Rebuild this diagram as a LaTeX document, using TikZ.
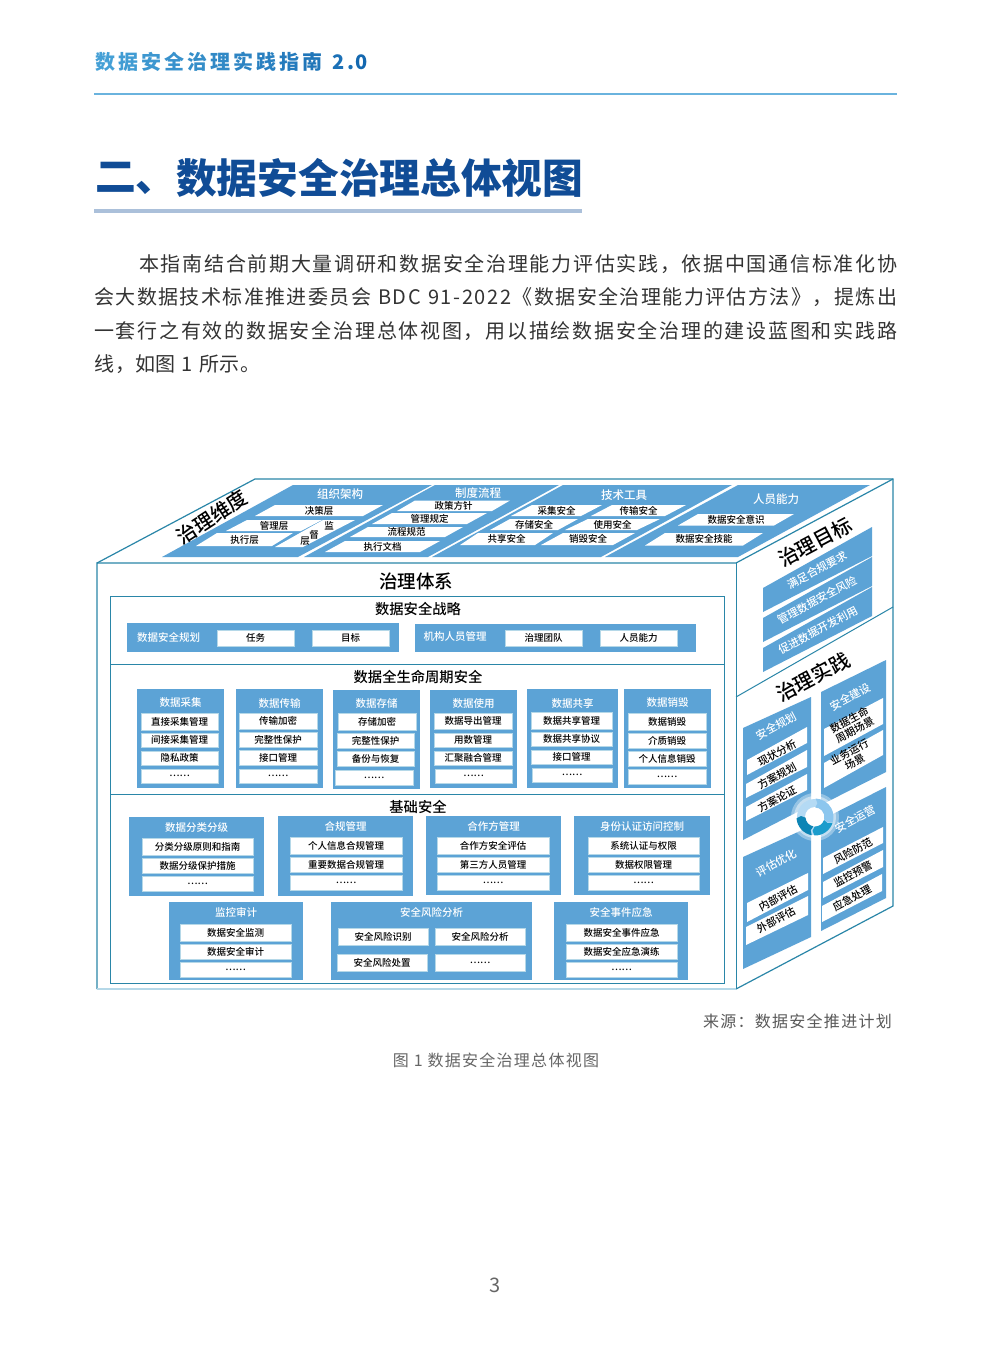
\documentclass[tikz,border=0pt]{standalone}
\usepackage{xcolor}
\usepackage{fontspec}
\setmainfont{Noto Sans CJK SC}
\newfontfamily\medfont{Noto Sans CJK SC Medium}
\newfontfamily\spreadfont[LetterSpace=8]{Noto Sans CJK SC}
\XeTeXlinebreaklocale "zh"
\XeTeXlinebreakskip=0pt plus 4pt
\definecolor{cardblue}{HTML}{5CA3D6}
\definecolor{edgeteal}{HTML}{2A86A8}
\definecolor{paleedge}{HTML}{B5D8E8}
\definecolor{navyhead}{HTML}{104C96}
\definecolor{headA}{HTML}{45A0D6}
\definecolor{headB}{HTML}{1468B0}
\definecolor{ringA}{HTML}{8CC6EE}
\definecolor{ringB}{HTML}{1B9CCC}
\definecolor{ringC}{HTML}{0D85B5}
\tikzset{
    card/.style={fill=cardblue,text=white,inner sep=0pt},
    rowcell/.style={fill=white,draw=paleedge,line width=0.4pt,text=black,inner sep=0pt,font=\medfont\fontsize{9.5}{10}\selectfont},
    cardtitle/.style={text=white,inner sep=0pt,font=\medfont\fontsize{10.5}{11}\selectfont},
    bandtitle/.style={text=white,inner sep=0pt,font=\medfont\fontsize{11.5}{12}\selectfont},
    slanttext/.style={text=black,inner sep=0pt,font=\medfont\fontsize{9.5}{10}\selectfont},
    heading/.style={text=black,inner sep=0pt,font=\medfont\fontsize{14.3}{15}\selectfont},
    facehead/.style={text=black,inner sep=0pt,rotate=28,font=\medfont\fontsize{20}{21}\selectfont},
    facetext/.style={text=black,inner sep=0pt,rotate=28,align=center,font=\medfont\fontsize{10.5}{11.5}\selectfont},
    facewhite/.style={text=white,inner sep=0pt,rotate=28,font=\medfont\fontsize{11}{12}\selectfont}
}
% box from corners, text in the middle
\newcommand{\cellat}[7]{\node[#1,minimum width={(#5-#3)*1pt},minimum height={(#6-#4)*1pt}] (#2) at ({(#3+#5)/2},{(#4+#6)/2}) {#7};}
\begin{document}
\begin{tikzpicture}[x=1pt,y=-1pt]
    \useasboundingbox (0,0) rectangle (992,1346);
    \fill[white] (0,0) rectangle (992,1346);

    % Page header
    \foreach \ch/\px [count=\i] in {数/105,据/128,安/151,全/174,治/197,理/220,实/243,践/266,指/289,南/312,2/339,./351,0/362} {
        \pgfmathtruncatemacro{\pct}{(\i-1)*100/12}
        \node[anchor=base,inner sep=0pt,text=headB!\pct!headA,font=\bfseries\fontsize{20}{21}\selectfont] (hd\i) at (\px,70) {\ch};
    }
    \draw[color=headA!80,line width=1.2pt] (94,94) -- (897,94);

    % Section title
    \node[anchor=west,inner sep=0pt,text=navyhead,font=\bfseries\fontsize{40.7}{42}\selectfont] (secnum) at (95,178) {二、};
    \node[anchor=west,inner sep=0pt,text=navyhead,font=\bfseries\fontsize{40.7}{42}\selectfont] (sectitle) at (176,178) {数据安全治理总体视图};
    \draw[color=navyhead!35,line width=3.5pt] (94,211) -- (582,211);

    % Intro paragraph
    \node[anchor=north west,inner sep=0pt,text width=803pt,align=justify,text=black!80,font=\spreadfont\fontsize{20}{33.4}\selectfont] (intro) at (94,254) {\hspace*{45pt}本指南结合前期大量调研和数据安全治理能力评估实践，依据中国通信标准化协\linebreak 会大数据技术标准推进委员会 BDC 91-2022《数据安全治理能力评估方法》，提炼出\linebreak 一套行之有效的数据安全治理总体视图，用以描绘数据安全治理的建设蓝图和实践路\linebreak 线，如图 1 所示。};

    % Cube outline
    \draw[edgeteal,line width=1.2pt] (97,563) -- (255,479) -- (893,479) -- (893,906) -- (736,989);
    \draw[edgeteal,line width=1.2pt] (97,989) -- (97,563) -- (736,563) -- (893,479);
    \draw[edgeteal,line width=1pt] (736,563) -- (736,989);
    \draw[paleedge,line width=1.6pt] (97,989) -- (736,989);
    \draw[edgeteal,line width=1pt] (736,697) -- (893,607);

    % Top face
    \node[inner sep=0pt,rotate=33,font=\medfont\fontsize{20}{21}\selectfont] (topname) at (212,517) {治理维度};
    \foreach \xa/\xb/\xc/\xd in {293/432/298/162, 435/559/428/304, 563/732/601/432, 738/870/738/605} {
        \fill[cardblue] (\xa,485) -- (\xb,485) -- (\xc,557) -- (\xd,557) -- cycle;
    }
    \foreach \nm/\px/\py/\txt in {tzz/340/494/组织架构, tzd/478/493/制度流程, tjs/624/495/技术工具, try/776/499/人员能力} {
        \node[bandtitle] (\nm) at (\px,\py) {\txt};
    }
    \foreach \nm/\xa/\xb/\ya/\yb/\dx/\txt in {
        zjc/275/383/505/516/20/决策层, zgl/247/322/520/531/21/管理层, zzx/217/293/533/546/21/执行层,
        zzc/415/510/500.5/511/18/政策方针, zgd/392/487/513/524/20/管理规定, zlc/368/463/527/537/18/流程规范, zwd/345/440/541/552/20/执行文档,
        jcj/532/602/505/516/21/采集安全, jcs/612/686/505/516/21/传输安全, jcc/510/578/519/530/20/存储安全,
        jsy/588/660/519/530/23/使用安全, jgx/478/553/533/545/18/共享安全, jxh/563/635/533/545/22/销毁安全,
        ryy/698/794/514/525.5/20/数据安全意识, rjn/665/763/533/545.5/20/数据安全技能} {
        \fill[white] (\xa,\ya) -- (\xb,\ya) -- ({\xb-\dx},\yb) -- ({\xa-\dx},\yb) -- cycle;
        \node[slanttext] (\nm) at ({(\xa+\xb-\dx)/2},{(\ya+\yb)/2}) {\txt};
    }
    \fill[white] (323,520) -- (355,520) -- (303,547) -- (275,547) -- cycle;
    \foreach \nm/\px/\py/\txt in {zjd/329/526/监, zdu/314/535/督, zce/305/541/层} {
        \node[slanttext] (\nm) at (\px,\py) {\txt};
    }

    % Front face
    \node[inner sep=0pt,font=\medfont\fontsize{18.5}{20}\selectfont] (frontname) at (416,581) {治理体系};
    \draw[edgeteal,line width=1pt] (110,596) rectangle (724,983);
    \draw[edgeteal,line width=1pt] (110,664) -- (724,664);
    \draw[edgeteal,line width=1pt] (110,794) -- (724,794);
    \foreach \nm/\py/\txt in {stratname/609/数据安全战略, lifename/677/数据全生命周期安全, basename/807/基础安全} {
        \node[heading] (\nm) at (418,\py) {\txt};
    }

    % Strategy
    \cellat{card}{plan}{127}{623}{399}{652}{}
    \cellat{card}{org}{415}{624}{696}{652}{}
    \node[cardtitle] (plantitle) at (168.5,637) {数据安全规划};
    \node[cardtitle] (orgtitle) at (455,637) {机构人员管理};
    \cellat{rowcell}{plana}{217}{630}{294}{646}{任务}
    \cellat{rowcell}{planb}{312}{630}{389}{646}{目标}
    \cellat{rowcell}{orga}{505}{630}{582}{646}{治理团队}
    \cellat{rowcell}{orgb}{600}{630}{677}{646}{人员能力}

    % Life cycle
    \foreach \nm/\xa/\ya/\xb/\yb/\txt in {
        cola/137/689/224/788/数据采集, colb/236/689/323/788/数据传输, colc/333/690/420/789/数据存储,
        cold/430/690/517/788/数据使用, cole/527/689/618/788/数据共享, colf/624/689/711/788/数据销毁} {
        \cellat{card}{\nm}{\xa}{\ya}{\xb}{\yb}{}
        \node[cardtitle] (\nm t) at ({(\xa+\xb)/2},{\ya+14}) {\txt};
    }
    \foreach \nm/\xa/\ya/\xb/\yb/\txt in {
        aa/141/713/218/730/直接采集管理, ab/141/733/218/747/间接采集管理, ac/141/751/218/765/隐私政策, ad/141/769/218/783/……,
        ba/239/713/317/729/传输加密, bb/239/732/317/747/完整性保护, bc/239/750/317/765/接口管理, bd/239/769/317/783/……,
        ca/338/713/416/730/存储加密, cb/337/733/414/748/完整性保护, cc/337/751/414/766/备份与恢复, cd/335/770/413/785/……,
        da/434/713/512/729/数据导出管理, db/434/733/512/747/用数管理, dc/434/751/512/765/汇聚融合管理, dd/435/769/512/783/……,
        ea/531/712/612/729/数据共享管理, eb/531/732/612/746/数据共享协议, ec/531/750/612/764/接口管理, ed/532/768/612/782/……,
        fa/628/713/706/730/数据销毁, fb/628/733/706/748/介质销毁, fc/628/751/706/766/个人信息销毁, fd/628/769/706/784/……} {
        \cellat{rowcell}{\nm}{\xa}{\ya}{\xb}{\yb}{\txt}
    }

    % Foundation
    \foreach \nm/\xa/\ya/\xb/\yb/\txt in {
        fla/129/817/264/896/数据分类分级, flb/278/816/413/896/合规管理, flc/426/816/561/895/合作方管理, fld/574/816/710/895/身份认证访问控制,
        fle/169/902/303/980/监控审计, flf/331/902/532/980/安全风险分析, flg/554/902/688/980/安全事件应急} {
        \cellat{card}{\nm}{\xa}{\ya}{\xb}{\yb}{}
        \node[cardtitle] (\nm t) at ({(\xa+\xb)/2},{\ya+10.5}) {\txt};
    }
    \foreach \nm/\xa/\ya/\xb/\yb/\txt in {
        ga/142/838/253/855/分类分级原则和指南, gb/142/858/253/873/数据分级保护措施, gc/142/876/253/891/……,
        ha/290/837/402/854/个人信息合规管理, hb/290/857/402/872/重要数据合规管理, hc/290/875/402/890/……,
        ia/437/837/549/854/合作方安全评估, ib/437/857/549/872/第三方人员管理, ic/437/875/549/890/……,
        ja/588/837/699/854/系统认证与权限, jb/588/857/699/872/数据权限管理, jc/588/875/699/890/……,
        ka/180/924/291/941/数据安全监测, kb/180/944/291/959/数据安全审计, kc/180/962/291/977/……,
        la/338/928/428/945/安全风险识别, lb/337/954/427/971/安全风险处置, lc/435/928/525/945/安全风险分析, ld/435/954/525/971/……,
        ma/566/924/677/941/数据安全事件应急, mb/566/944/677/959/数据安全应急演练, mc/566/962/677/977/……} {
        \cellat{rowcell}{\nm}{\xa}{\ya}{\xb}{\yb}{\txt}
    }

    % Right face, goals
    \node[facehead] (goalname) at (815,542) {治理目标};
    \foreach \nm/\yl/\yr/\px/\py/\txt in {
        goa/588/527/817/570/满足合规要求, gob/618/557/817/600/管理数据安全风险, goc/648/587/818/630/促进数据开发利用} {
        \fill[cardblue] (763,\yl) -- (872,\yr) -- (872,{\yr+29}) -- (763,{\yl+24}) -- cycle;
        \node[facewhite] (\nm) at (\px,\py) {\txt};
    }

    % Right face, practice
    \node[facehead] (pracname) at (813,677) {治理实践};
    \foreach \xa/\xb/\yla/\yra/\ylb/\yrb in {743/811/728/697/840/805, 821/886/692/660/805/772, 743/811/857/826/969/937, 821/886/820/787/931/898} {
        \fill[cardblue] (\xa,\yla) -- (\xb,\yra) -- (\xb,\yrb) -- (\xa,\ylb) -- cycle;
    }
    \foreach \nm/\px/\py/\txt in {pha/776/726/安全规划, phb/850/697/安全建设, phc/776/863/评估优化, phd/855/819/安全运营} {
        \node[facewhite] (\nm) at (\px,\py) {\txt};
    }
    \foreach \xa/\xb/\yla/\yra/\ylb/\yrb in {
        747/807/760/727/775/743, 746/807/784/750/798/767, 746/807/807/774/821/790,
        824/883/729/698/756/724, 824/883/763/730/788/755,
        747/808/903/873/922/890, 746/808/927/896/945/915,
        823/883/858/827/874/843, 823/883/882/850/898/867, 822/882/906/874/922/891} {
        \fill[white] (\xa,\yla) -- (\xb,\yra) -- (\xb,\yrb) -- (\xa,\ylb) -- cycle;
    }
    \foreach \nm/\px/\py/\txt in {
        ra/777/753/现状分析, rb/777/776/方案规划, rc/777/799/方案论证,
        rd/852/725/数据生命\\周期场景, re/852/757/业务运行\\场景,
        rf/778/898/内部评估, rg/776/920/外部评估,
        rh/853/851/风险防范, ri/853/874/监控预警, rj/852/898/应急处理} {
        \node[facetext] (\nm) at (\px,\py) {\txt};
    }

    % Hub ring
    \begin{scope}[shift={(815,817)}]
        \fill[white,opacity=0.35] (0,0) circle (24);
        \fill[white,opacity=0.45] (0,0) circle (21);
        \fill[ringA!65!white] (0,0) circle (18);
        \node[circle,fill=white,minimum size=20pt,inner sep=0pt] (hub) at (0,0) {};
        \foreach \col/\a/\b in {ringA/272/375, ringB/18/92, ringC/100/176} {
            \fill[\col] (\a:18.5) arc[start angle=\a,end angle=\b,radius=18.5] -- ({\b+8}:14) -- (\b:9.5) arc[start angle=\b,end angle=\a,radius=9.5] -- ({\a+8}:14) -- cycle;
        }
    \end{scope}

    % Source, caption, page number
    \node[inner sep=0pt,text=black!65,font=\spreadfont\fontsize{16}{17}\selectfont,anchor=east] (source) at (892,1021) {来源：数据安全推进计划};
    \node[inner sep=0pt,text=black!60,font=\spreadfont\fontsize{16}{17}\selectfont] (caption) at (496,1060) {图 1 数据安全治理总体视图};
    \node[inner sep=0pt,text=black!60,font=\fontsize{20}{21}\selectfont] (pageno) at (495,1285) {3};
\end{tikzpicture}
\end{document}
